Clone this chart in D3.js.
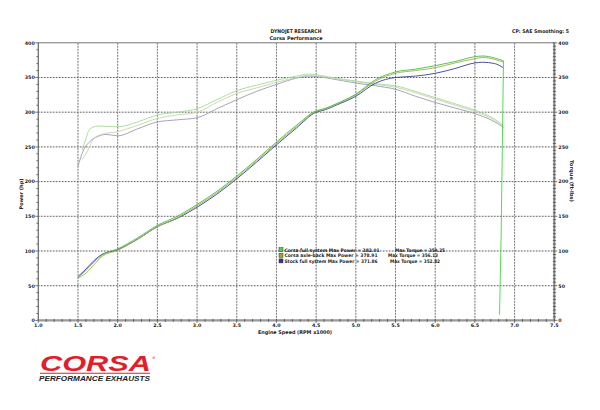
<!DOCTYPE html>
<html><head><meta charset="utf-8">
<script src="https://cdn.jsdelivr.net/npm/d3@7"></script>
<style>body{margin:0;background:#fff}svg{display:block}</style>
</head><body>
<svg id="c" width="600" height="410"></svg>
<script>
// ---- data ----
const rpmTicks = [1.0,1.5,2.0,2.5,3.0,3.5,4.0,4.5,5.0,5.5,6.0,6.5,7.0,7.5];
const yTicks = [0,50,100,150,200,250,300,350,400];

const powerFullRpm = [1.5,1.6,1.7,1.8,2.0,2.25,2.5,2.75,3.0,3.25,3.5,3.75,4.0,4.25,4.5,4.6,4.75,5.0,5.25,5.5,5.75,6.0,6.25,6.5,6.6,6.75,6.86,6.83,6.81];
const powerFull    = [62,72,84,94,103,119,137,150,167,186,208,232,257,281,302,305,312,326,347,358,362,367,373,380,381,378,374,120,8];
const powerAxleRpm = [1.5,1.6,1.7,1.8,2.0,2.25,2.5,2.75,3.0,3.25,3.5,3.75,4.0,4.25,4.5,4.6,4.75,5.0,5.25,5.5,5.75,6.0,6.25,6.5,6.6,6.75,6.86];
const powerAxle    = [61,68,80,92,101,117,135,148,165,184,206,230,255,279,301,304,311,325,345,356,360,364,371,377,379,376,372];
const powerStockRpm= [1.5,1.6,1.7,1.8,2.0,2.25,2.5,2.75,3.0,3.25,3.5,3.75,4.0,4.25,4.5,4.6,4.75,5.0,5.25,5.5,5.75,6.0,6.25,6.5,6.6,6.75,6.86];
const powerStock   = [63,74,86,95,102,117,135,147,163,182,204,228,253,277,300,303,310,323,342,350,352,356,363,371,372,370,364];

const torqueFullRpm = [1.55,1.6,1.65,1.75,2.0,2.25,2.5,2.75,3.0,3.25,3.5,3.75,4.0,4.25,4.4,4.6,4.75,5.0,5.25,5.5,5.75,6.0,6.25,6.5,6.75,6.86];
const torqueFull    = [245,262,276,280,279,286,296,300,305,318,331,339,346,352,355,352,349,345,341,338,330,321,312,303,290,281];
const torqueAxleRpm = [1.55,1.6,1.7,1.8,2.0,2.25,2.5,2.75,3.0,3.25,3.5,3.75,4.0,4.25,4.4,4.6,4.75,5.0,5.25,5.5,5.75,6.0,6.25,6.5,6.75,6.86];
const torqueAxle    = [232,240,262,268,272,281,291,296,300,314,327,335,343,350,353,351,348,344,340,336,328,319,310,301,288,279];
const torqueStockRpm= [1.5,1.55,1.65,1.75,1.85,2.0,2.25,2.5,2.75,3.0,3.25,3.5,3.75,4.0,4.25,4.4,4.6,4.75,5.0,5.25,5.5,5.75,6.0,6.25,6.5,6.75,6.86];
const torqueStock   = [222,240,258,265,268,266,276,286,289,292,305,318,330,340,349,352,350,347,342,338,333,323,314,306,298,286,278];

const legendNames  = ["Corsa full system Max Power = 382.01","Corsa axle-back Max Power = 378.91","Stock full system Max Power = 371.86"];
const legendTorque = ["Max Torque = 359.25","Max Torque = 356.13","Max Torque = 352.82"];

// ---- drawing ----
const svg = d3.select("#c");
const x = d3.scaleLinear().domain([1.0,7.5]).range([38.3,554.3]);
const y = d3.scaleLinear().domain([0,400]).range([320.4,42.8]);
const F = "'DejaVu Sans', Verdana, sans-serif";

// grid
const g = svg.append("g");
rpmTicks.slice(1,-1).forEach(t=>{
  g.append("line").attr("x1",x(t)).attr("x2",x(t)).attr("y1",y(0)).attr("y2",y(400))
   .attr("stroke","#c8c8c8").attr("stroke-width",0.6);
  g.append("line").attr("x1",x(t)).attr("x2",x(t)).attr("y1",y(0)).attr("y2",y(400))
   .attr("stroke","#222").attr("stroke-width",0.9).attr("stroke-dasharray","1,2");
});
yTicks.slice(1,-1).forEach(t=>{
  g.append("line").attr("x1",x(1)).attr("x2",x(7.5)).attr("y1",y(t)).attr("y2",y(t))
   .attr("stroke","#c8c8c8").attr("stroke-width",0.6);
  g.append("line").attr("x1",x(1)).attr("x2",x(7.5)).attr("y1",y(t)).attr("y2",y(t))
   .attr("stroke","#222").attr("stroke-width",0.9).attr("stroke-dasharray","1,2");
});
g.append("line").attr("x1",x(1)).attr("x2",x(7.5)).attr("y1",y(400)).attr("y2",y(400)).attr("stroke","#777").attr("stroke-width",1);

// axes
const ax = svg.append("g");
ax.append("line").attr("x1",x(1)).attr("x2",x(1)).attr("y1",y(0)).attr("y2",y(400)).attr("stroke","#666").attr("stroke-width",1.2);
d3.range(0,401,10).forEach(v=>{
  const major = v%50===0;
  ax.append("line").attr("x1",x(1)-(major?3:2)).attr("x2",x(1)).attr("y1",y(v)).attr("y2",y(v)).attr("stroke","#555").attr("stroke-width",0.8);
});
ax.append("line").attr("x1",x(7.5)).attr("x2",x(7.5)).attr("y1",y(0)).attr("y2",y(400)).attr("stroke","#888").attr("stroke-width",2);
d3.range(0,401,5).forEach(v=>{
  const major = v%50===0;
  ax.append("line").attr("x1",x(7.5)-1.5).attr("x2",x(7.5)+(major?3:1.8)).attr("y1",y(v)).attr("y2",y(v)).attr("stroke","#444").attr("stroke-width",0.7);
});
ax.append("line").attr("x1",x(1)).attr("x2",x(7.5)).attr("y1",y(0)).attr("y2",y(0)).attr("stroke","#999").attr("stroke-width",2.2);
d3.range(10,76,1).forEach(i=>{
  const v=i/10, major = i%5===0;
  ax.append("line").attr("x1",x(v)).attr("x2",x(v)).attr("y1",y(0)-1.5).attr("y2",y(0)+(major?2.5:1.5)).attr("stroke","#444").attr("stroke-width",0.7);
});

// tick labels
const tl = svg.append("g").attr("font-family",F).attr("font-size",4.8).attr("font-weight","bold").attr("fill","#222");
rpmTicks.forEach(t=>tl.append("text").attr("x",x(t)).attr("y",y(0)+6.8).attr("text-anchor","middle").text(t.toFixed(1)));
yTicks.forEach(t=>{
  tl.append("text").attr("x",x(1)-3.5).attr("y",y(t)+1.8).attr("text-anchor","end").text(t);
  tl.append("text").attr("x",x(7.5)+4).attr("y",y(t)+1.8).attr("text-anchor","start").text(t);
});

// titles
const tt = svg.append("g").attr("font-family",F).attr("font-size",5).attr("font-weight","bold").attr("fill","#222");
tt.append("text").attr("x",296).attr("y",33).attr("text-anchor","middle").attr("textLength",51).attr("lengthAdjust","spacingAndGlyphs").text("DYNOJET RESEARCH");
tt.append("text").attr("x",296).attr("y",39.5).attr("text-anchor","middle").attr("textLength",53).attr("lengthAdjust","spacingAndGlyphs").text("Corsa Performance");
tt.append("text").attr("x",512).attr("y",33).attr("textLength",57).attr("lengthAdjust","spacingAndGlyphs").text("CP: SAE  Smoothing: 5");
tt.append("text").attr("x",258).attr("y",333.5).attr("textLength",74).attr("lengthAdjust","spacingAndGlyphs").text("Engine Speed (RPM x1000)");
tt.append("text").attr("transform","translate(23,194) rotate(-90)").attr("text-anchor","middle").text("Power (hp)");
tt.append("text").attr("transform","translate(570,181) rotate(90)").attr("text-anchor","middle").attr("textLength",42).attr("lengthAdjust","spacingAndGlyphs").text("Torque (ft-lbs)");

// curves
const line = d3.line().x(d=>x(d[0])).y(d=>y(d[1])).curve(d3.curveMonotoneX);
const lineL = d3.line().x(d=>x(d[0])).y(d=>y(d[1])).curve(d3.curveLinear);
const cur = svg.append("g").attr("fill","none");
function draw(rpm, vals, color, w){
  cur.append("path").attr("d",line(d3.zip(rpm,vals))).attr("stroke",color).attr("stroke-width",w);
}
draw(torqueStockRpm, torqueStock, "#9c98b8", 0.9);
draw(torqueAxleRpm, torqueAxle, "#c4d6a6", 0.9);
draw(torqueFullRpm, torqueFull, "#a6d89a", 0.9);
draw(powerStockRpm, powerStock, "#3c3c96", 0.9);
draw(powerAxleRpm, powerAxle, "#96b446", 0.9);
const pf = d3.zip(powerFullRpm, powerFull);
cur.append("path").attr("d",line(pf.slice(0,27))).attr("stroke","#4db848").attr("stroke-width",0.9);
cur.append("path").attr("d",lineL(pf.slice(26))).attr("stroke","#3fd63f").attr("stroke-width",0.9);

// legend
const lg = svg.append("g").attr("font-family",F).attr("font-size",4.8).attr("font-weight","bold").attr("fill","#222");
const legColors = ["#5cc95a","#9aa830","#3434a0"];
const legTx = [395,388,390];
const legLen = [95,93,93];
legendNames.forEach((n,i)=>{
  const yy = 251.5 + i*5.6;
  lg.append("rect").attr("x",279).attr("y",yy-3.8).attr("width",4).attr("height",4).attr("fill",legColors[i]).attr("stroke","#333").attr("stroke-width",0.5);
  lg.append("text").attr("x",284.5).attr("y",yy).attr("textLength",legLen[i]).attr("lengthAdjust","spacingAndGlyphs").text(n);
  lg.append("text").attr("x",legTx[i]).attr("y",yy).attr("textLength",50).attr("lengthAdjust","spacingAndGlyphs").text(legendTorque[i]);
});

// logo
const lo = svg.append("g");
lo.append("text").attr("x",40).attr("y",371).attr("font-family","'Liberation Sans', Arial, sans-serif")
  .attr("font-size",22).attr("font-weight","bold").attr("font-style","italic").attr("fill","#e01f2d")
  .attr("textLength",111).attr("lengthAdjust","spacingAndGlyphs").text("CORSA");
lo.append("text").attr("x",152).attr("y",359).attr("font-family",F).attr("font-size",3.5).attr("fill","#e01f2d").text("®");
lo.append("line").attr("x1",40).attr("x2",150).attr("y1",373.3).attr("y2",373.3).attr("stroke","#e01f2d").attr("stroke-width",1.1);
lo.append("text").attr("x",39).attr("y",380.5).attr("font-family","'Liberation Sans', Arial, sans-serif")
  .attr("font-size",7).attr("font-weight","bold").attr("font-style","italic").attr("fill","#222")
  .attr("textLength",111).attr("lengthAdjust","spacingAndGlyphs").text("PERFORMANCE EXHAUSTS");
</script>
</body></html>
